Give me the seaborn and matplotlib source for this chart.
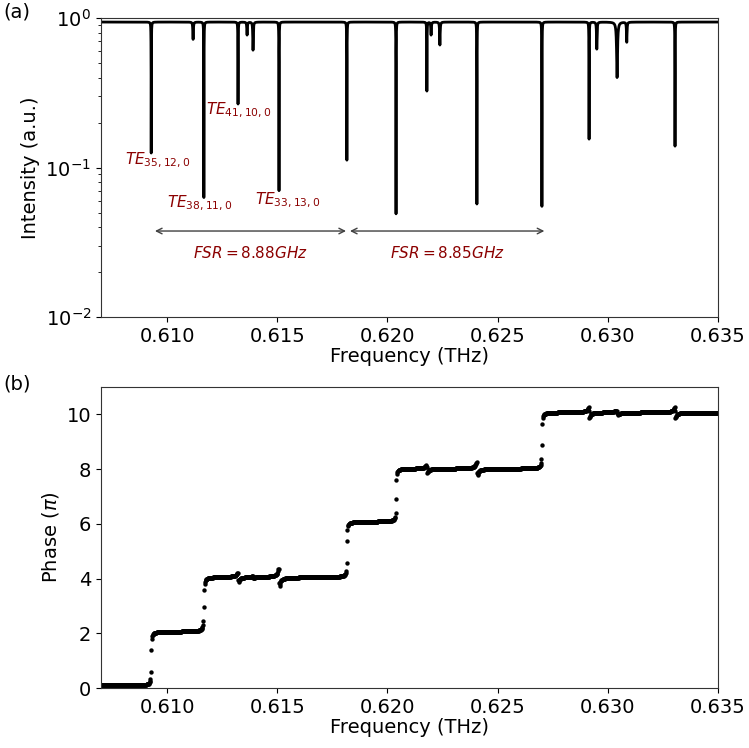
import numpy as np
import pandas as pd
import matplotlib
matplotlib.use("Agg")
import matplotlib.pyplot as plt
import seaborn as sns

# ---------------------------------------------------------------------
# Data
# ---------------------------------------------------------------------
BASELINE = 0.94

# transmission dips: centre (THz), minimum intensity, half-width (THz)
dip_freq = [0.60928, 0.61118, 0.61167, 0.61322, 0.61363, 0.61390, 0.61508,
            0.61816, 0.62039, 0.62179, 0.62198, 0.62238, 0.62406, 0.62701,
            0.62915, 0.62950, 0.63042, 0.63086, 0.63305]
dip_min = [0.125, 0.72, 0.063, 0.266, 0.77, 0.61, 0.070,
           0.112, 0.049, 0.325, 0.77, 0.66, 0.057, 0.055,
           0.155, 0.62, 0.40, 0.69, 0.139]
dip_width = [8e-6, 1.5e-5, 8e-6, 8e-6, 1.5e-5, 1.5e-5, 8e-6,
             8e-6, 8e-6, 8e-6, 1.5e-5, 1.5e-5, 8e-6, 8e-6,
             8e-6, 1.5e-5, 3e-5, 1.5e-5, 8e-6]

# phase: plateau levels and the 2pi steps between them
phase_levels = [0.08, 2.05, 4.05, 6.08, 8.02, 10.08]
step_freq = [0.60928, 0.61167, 0.61816, 0.62039, 0.62701]
step_width = [1.3e-5, 1.6e-5, 1.3e-5, 1.3e-5, 1.3e-5]

# dispersive wiggles at the other resonances
wiggle_freq = [0.61322, 0.61390, 0.61508, 0.62179, 0.62406, 0.62915, 0.63042, 0.63305]
wiggle_amp = [0.35, 0.08, 0.65, 0.3, 0.5, 0.4, 0.15, 0.4]
wiggle_width = [2e-5, 2e-5, 2e-5, 2e-5, 2e-5, 2e-5, 4e-5, 2e-5]

# annotations
mode_labels = [r"$TE_{35,12,0}$", r"$TE_{38,11,0}$", r"$TE_{41,10,0}$", r"$TE_{33,13,0}$"]
mode_x = [0.60808, 0.61000, 0.61177, 0.61399]
mode_y = [0.112, 0.058, 0.243, 0.0606]
fsr_labels = [r"$FSR = 8.88GHz$", r"$FSR = 8.85GHz$"]
fsr_start = [0.60945, 0.61830]
fsr_end = [0.61812, 0.62712]

F_MIN, F_MAX = 0.607, 0.635
RED = "#8b0000"
XTICKS = [0.610, 0.615, 0.620, 0.625, 0.630, 0.635]

# ---------------------------------------------------------------------
# Curves built from the read parameters
# ---------------------------------------------------------------------
f_int = np.sort(np.concatenate([np.linspace(F_MIN, F_MAX, 14001), dip_freq]))
intensity = np.full_like(f_int, BASELINE)
for f0, dmin, w in zip(dip_freq, dip_min, dip_width):
    a = 1 - dmin / BASELINE
    intensity *= 1 - a / (1 + ((f_int - f0) / w) ** 2)
df_int = pd.DataFrame({"freq": f_int, "intensity": intensity})

f_ph = np.linspace(F_MIN, F_MAX, 1401) + 7e-6
phase = np.full_like(f_ph, phase_levels[0])
for k, (f0, w) in enumerate(zip(step_freq, step_width)):
    jump = phase_levels[k + 1] - phase_levels[k]
    phase += jump * (0.5 + np.arctan((f_ph - f0) / w) / np.pi)
for f0, amp, w in zip(wiggle_freq, wiggle_amp, wiggle_width):
    x = (f_ph - f0) / w
    phase -= amp * x / (1 + x ** 2)
df_ph = pd.DataFrame({"freq": f_ph, "phase": phase})

# ---------------------------------------------------------------------
# Figure
# ---------------------------------------------------------------------
sns.set_style("ticks", {"axes.edgecolor": "0.2", "text.color": "black",
                        "axes.labelcolor": "black", "xtick.color": "black",
                        "ytick.color": "black"})
plt.rcParams["font.family"] = ["DejaVu Sans"]

fig = plt.figure(figsize=(7.49, 7.48), dpi=100)
ax1 = fig.add_axes([0.1348, 0.5762, 0.8238, 0.3997])
ax2 = fig.add_axes([0.1348, 0.0802, 0.8238, 0.4024])

# (a) intensity
sns.lineplot(data=df_int, x="freq", y="intensity", ax=ax1, color="black",
             linewidth=2, estimator=None, sort=False)
ax1.set_yscale("log")
ax1.set_xlim(F_MIN, F_MAX)
ax1.set_ylim(1e-2, 1.0)
ax1.set_xticks(XTICKS)
ax1.set_xticklabels([f"{t:.3f}" for t in XTICKS])
ax1.set_xlabel("Frequency (THz)", fontsize=14, labelpad=1)
ax1.set_ylabel("Intensity (a.u.)", fontsize=14)
ax1.tick_params(labelsize=14)

for lab, x, y in zip(mode_labels, mode_x, mode_y):
    ax1.text(x, y, lab, color=RED, fontsize=11, ha="left", va="center")
for lab, x0, x1 in zip(fsr_labels, fsr_start, fsr_end):
    ax1.annotate("", xy=(x0, 0.0376), xytext=(x1, 0.0376),
                 arrowprops=dict(arrowstyle="<->", color="0.25", lw=1,
                                 shrinkA=0, shrinkB=0))
    ax1.text((x0 + x1) / 2, 0.0268, lab, color=RED, fontsize=11,
             ha="center", va="center")

# (b) phase
sns.scatterplot(data=df_ph, x="freq", y="phase", ax=ax2, color="black",
                s=10, linewidth=0)
ax2.set_xlim(F_MIN, F_MAX)
ax2.set_ylim(0, 11)
ax2.set_xticks(XTICKS)
ax2.set_xticklabels([f"{t:.3f}" for t in XTICKS])
ax2.set_yticks([0, 2, 4, 6, 8, 10])
ax2.set_xlabel("Frequency (THz)", fontsize=14, labelpad=1)
ax2.set_ylabel(r"Phase ($\pi$)", fontsize=14)
ax2.tick_params(labelsize=14)

fig.text(0.004, 0.984, "(a)", fontsize=14, va="center")
fig.text(0.004, 0.487, "(b)", fontsize=14, va="center")

fig.savefig("out.png", dpi=100)
plt.close(fig)
